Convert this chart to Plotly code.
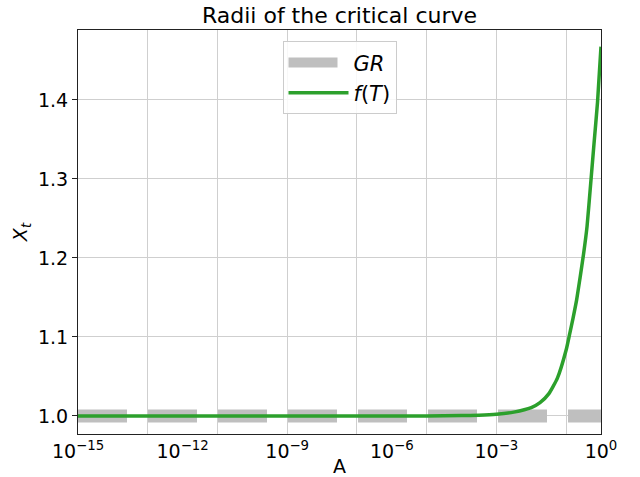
import plotly.graph_objects as go

# data
A_ft = [1e-15, 1e-12, 1e-9, 1e-6, 1e-5, 1e-4, 3.16e-4, 1e-3, 3.16e-3, 1e-2, 1.78e-2, 3.16e-2,
        5.62e-2, 0.1, 0.126, 0.158, 0.2, 0.251, 0.316, 0.398, 0.501, 0.631, 0.794, 1.0]
X_ft = [1.0, 1.0, 1.0, 1.0, 1.0001, 1.0005, 1.001, 1.0022, 1.0049, 1.0105, 1.0168, 1.028,
        1.048, 1.0835, 1.1036, 1.124, 1.147, 1.175, 1.205, 1.24, 1.292, 1.345, 1.397, 1.4675]
A_gr = [1e-15, 1.0]
X_gr = [1.0, 1.0]

major_vals = [1e-15, 1e-12, 1e-9, 1e-6, 1e-3, 1.0]
major_text = ["10<sup>−15</sup>", "10<sup>−12</sup>", "10<sup>−9</sup>",
              "10<sup>−6</sup>", "10<sup>−3</sup>", "10<sup>0</sup>"]
grid_vals = [1e-15, 1e-13, 1e-11, 1e-9, 1e-7, 1e-5, 1e-3, 1e-1]
y_ticks = [1.0, 1.1, 1.2, 1.3, 1.4]

FONT = "DejaVu Sans"

fig = go.Figure()
fig.add_trace(go.Scatter(
    x=A_gr, y=X_gr, mode="lines", name="<i>GR</i>", legendgroup="gr",
    line=dict(color="#bfbfbf", width=13, dash="49px,21px"),
))
fig.add_trace(go.Scatter(
    x=A_ft, y=X_ft, mode="lines", name="<i>f</i>(<i>T</i>)", legendgroup="ft",
    line=dict(color="#2ca02c", width=3.5, shape="spline", smoothing=0.5),
))

fig.update_layout(
    width=640, height=477,
    margin=dict(l=78, r=39, t=30, b=43, autoexpand=False),
    paper_bgcolor="white", plot_bgcolor="white",
    font=dict(family=FONT, size=19, color="black"),
    title=dict(text="Radii of the critical curve", x=0.5, xref="paper", xanchor="center",
               y=1 - 15 / 477, yref="container", yanchor="middle",
               font=dict(size=22, family=FONT)),
    legend=dict(x=0.5, xanchor="center", y=0.972, yanchor="top",
                bgcolor="rgba(255,255,255,0.85)", bordercolor="#cccccc", borderwidth=1,
                font=dict(size=21, family=FONT), tracegroupgap=0, itemwidth=60),
    showlegend=True,
)
fig.update_xaxes(
    type="log", range=[-15, 0], automargin=False,
    tickmode="array", tickvals=major_vals, ticktext=major_text,
    ticks="", showgrid=False, zeroline=False,
    minor=dict(tickmode="array", tickvals=grid_vals, showgrid=True,
               gridcolor="#cfcfcf", gridwidth=1.2, ticks=""),
    showline=True, mirror=True, linecolor="#222222", linewidth=1.1,
    title=dict(text="A", font=dict(size=19), standoff=2),
    tickfont=dict(size=19),
)
fig.update_yaxes(
    range=[0.9772, 1.4886], tickmode="array", tickvals=y_ticks, automargin=False,
    ticktext=["1.0", "1.1", "1.2", "1.3", "1.4"],
    ticks="outside", ticklen=5, tickcolor="#222222",
    showgrid=True, gridcolor="#cfcfcf", gridwidth=1.2, zeroline=False,
    showline=True, mirror=True, linecolor="#222222", linewidth=1.1,
    title=dict(text="<i>X</i><sub><i>t</i></sub>", font=dict(size=19), standoff=5),
    tickfont=dict(size=19),
)

fig.write_html("out.html", config={"displayModeBar": False},
               post_script="document.body.style.margin='0';")
